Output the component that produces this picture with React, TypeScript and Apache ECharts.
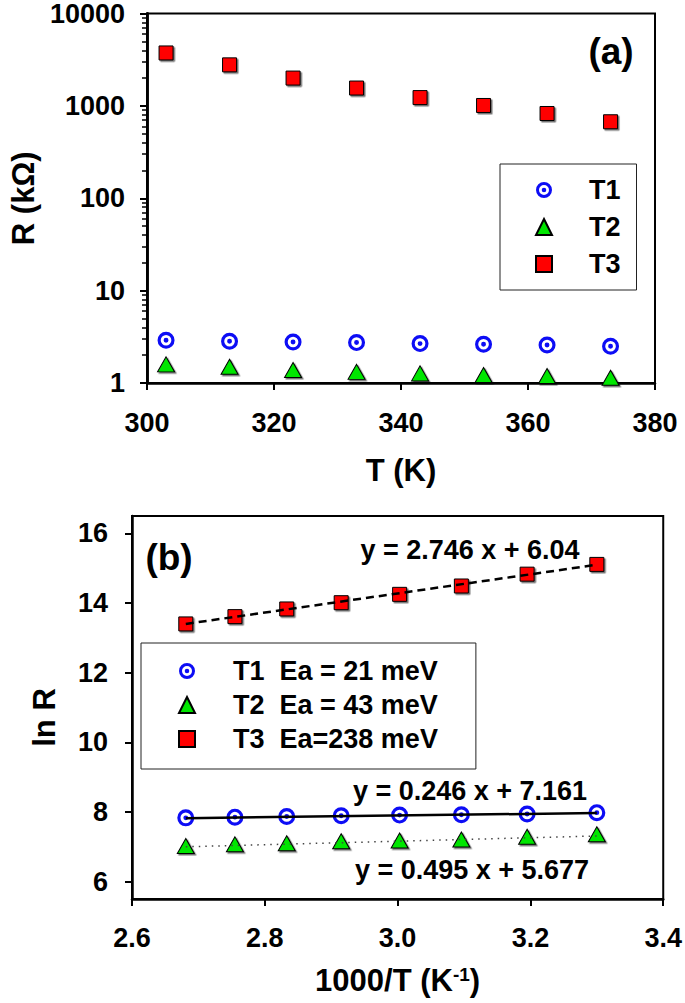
import React, { useEffect, useRef } from "react";
import * as echarts from "echarts";

// ---------- data ----------
const temps = [303, 313, 323, 333, 343, 353, 363, 373];
const rT1 = [2.9, 2.83, 2.78, 2.74, 2.67, 2.63, 2.58, 2.5];
const rT2 = [1.59, 1.5, 1.38, 1.32, 1.27, 1.22, 1.19, 1.14];
const rT3 = [3740, 2780, 2000, 1560, 1230, 1010, 827, 673];

const invT = [3.3, 3.195, 3.096, 3.003, 2.915, 2.833, 2.755, 2.681];
const lnT1 = [7.98, 7.94, 7.92, 7.91, 7.89, 7.87, 7.85, 7.83];
const lnT2 = [7.36, 7.29, 7.21, 7.18, 7.16, 7.1, 7.07, 7.02];
const lnT3 = [15.11, 14.83, 14.49, 14.25, 14.01, 13.83, 13.61, 13.4];

const fitX = [2.681, 3.3];
const fitT1 = [7.82, 7.97];
const fitT2 = [7.0, 7.31];
const fitT3 = [13.4, 15.1];

const topNames = ["T1", "T2", "T3"];
const bottomNames = ["T1  Ea = 21 meV", "T2  Ea = 43 meV", "T3  Ea=238 meV"];
const eqLabels = ["y = 2.746 x + 6.04", "y = 0.246 x + 7.161", "y = 0.495 x + 5.677"];
const panelLabels = ["(a)", "(b)"];

const topYTicks = [1, 10, 100, 1000, 10000];
const topYMinor = [
  2, 3, 4, 5, 6, 7, 8, 9,
  20, 30, 40, 50, 60, 70, 80, 90,
  200, 300, 400, 500, 600, 700, 800, 900,
  2000, 3000, 4000, 5000, 6000, 7000, 8000, 9000,
];
const botYTicks = [6, 8, 10, 12, 14, 16];

// ---------- styles ----------
const FONT = '"Liberation Sans", Arial, Helvetica, sans-serif';
const BLUE = "#0d0df5";
const GREEN = "#00e600";
const RED = "#ff0000";
const RING =
  "path://M0,-8A8,8,0,1,1,0,8A8,8,0,1,1,0,-8ZM0,-5A5,5,0,1,0,0,5A5,5,0,1,0,0,-5ZM0,-2.3A2.3,2.3,0,1,1,0,2.3A2.3,2.3,0,1,1,0,-2.3Z";

const axisLine = { show: true, onZero: false, lineStyle: { color: "#000", width: 2.5 } };
const tick = { show: true, length: 7, lineStyle: { color: "#000", width: 2 } };
const labelFont = { fontSize: 27, fontWeight: "bold" as const, fontFamily: FONT, color: "#000" };
const nameFont = { fontSize: 31, fontWeight: "bold" as const, fontFamily: FONT, color: "#000" };
const shadow = { shadowColor: "rgba(0,0,0,0.55)", shadowOffsetX: 1.5, shadowOffsetY: 1.5, shadowBlur: 1.5 };

export default function App() {
  const ref = useRef<HTMLDivElement>(null);

  useEffect(() => {
    if (!ref.current) return;
    const chart = echarts.init(ref.current, null, { renderer: "svg" });

    const t1Item = { color: BLUE, opacity: 1 };
    const t2Item = { color: GREEN, borderColor: "#000", borderWidth: 1, opacity: 1, ...shadow };
    const t3Item = { color: RED, borderColor: "#000", borderWidth: 1, opacity: 1, ...shadow };

    const option: any = {
      animation: false,
      backgroundColor: "#fff",
      grid: [
        { left: 137, top: 11, width: 518, height: 372, show: true, borderColor: "#000", borderWidth: 2 },
        { left: 132, top: 516, width: 532, height: 383, show: true, borderColor: "#000", borderWidth: 2 },
      ],
      xAxis: [
        {
          type: "value", gridIndex: 0, min: 300, max: 380, interval: 20,
          axisLine, axisTick: tick, splitLine: { show: false },
          axisLabel: { ...labelFont, margin: 26 },
          name: "T (K)", nameLocation: "middle", nameGap: 72, nameTextStyle: nameFont,
        },
        {
          type: "value", gridIndex: 1, min: 2.6, max: 3.4, interval: 0.2,
          axisLine, axisTick: tick, splitLine: { show: false },
          axisLabel: { ...labelFont, margin: 25, formatter: (v: number) => v.toFixed(1) },
          name: "1000/T (K{sup|-1})", nameLocation: "middle", nameGap: 66,
          nameTextStyle: {
            ...nameFont,
            rich: {
              sup: { fontSize: 19, fontWeight: "bold", fontFamily: FONT, color: "#000", verticalAlign: "top", padding: [0, 0, 12, 0] },
            },
          },
        },
      ],
      yAxis: [
        {
          type: "log", logBase: 10, gridIndex: 0, min: 1, max: 10000,
          axisLine, splitLine: { show: false },
          axisTick: { ...tick, customValues: topYTicks },
          axisLabel: { ...labelFont, margin: 22, customValues: topYTicks, formatter: (v: number) => String(Math.round(v)) },
          name: "R (kΩ)", nameLocation: "middle", nameGap: 108, nameTextStyle: nameFont,
        },
        {
          type: "log", logBase: 10, gridIndex: 0, min: 1, max: 10000, position: "left", offset: 0,
          axisLine: { show: true, onZero: false, lineStyle: { color: "#000", width: 2.5 } },
          splitLine: { show: false }, axisLabel: { show: false },
          axisTick: { show: true, length: 5, customValues: topYMinor, lineStyle: { color: "#000", width: 1.5 } },
        },
        {
          type: "value", gridIndex: 1, min: 5.5, max: 16.5,
          axisLine, splitLine: { show: false },
          axisTick: { ...tick, customValues: botYTicks },
          axisLabel: { ...labelFont, margin: 24, customValues: botYTicks },
          name: "ln R", nameLocation: "middle", nameGap: 72,
          nameTextStyle: { ...nameFont, padding: [0, 20, 0, 0] },
        },
      ],
      legend: [
        {
          data: topNames, left: 500, top: 164, orient: "vertical",
          itemWidth: 16, itemHeight: 16, itemGap: 9, selectedMode: false,
          padding: [12, 16, 12, 35], borderColor: "#222", borderWidth: 1, backgroundColor: "#fff",
          textStyle: { ...labelFont, lineHeight: 28, padding: [0, 0, 0, 32] },
        },
        {
          data: bottomNames, left: 141, top: 643, orient: "vertical",
          itemWidth: 16, itemHeight: 16, itemGap: 6, selectedMode: false,
          padding: [14, 38, 16, 37], borderColor: "#222", borderWidth: 1, backgroundColor: "#fff",
          textStyle: { ...labelFont, lineHeight: 28, padding: [0, 0, 0, 33] },
        },
      ],
      graphic: [
        { type: "text", x: 611, y: 51, style: { text: panelLabels[0], fontSize: 37, fontWeight: "bold", fontFamily: FONT, fill: "#000", textAlign: "center", textVerticalAlign: "middle" } },
        { type: "text", x: 169, y: 557, style: { text: panelLabels[1], fontSize: 37, fontWeight: "bold", fontFamily: FONT, fill: "#000", textAlign: "center", textVerticalAlign: "middle" } },
        { type: "text", x: 470, y: 550, style: { text: eqLabels[0], fontSize: 27, fontWeight: "bold", fontFamily: FONT, fill: "#000", textAlign: "center", textVerticalAlign: "middle" } },
        { type: "text", x: 470, y: 791, style: { text: eqLabels[1], fontSize: 27, fontWeight: "bold", fontFamily: FONT, fill: "#000", textAlign: "center", textVerticalAlign: "middle" } },
        { type: "text", x: 472, y: 870, style: { text: eqLabels[2], fontSize: 27, fontWeight: "bold", fontFamily: FONT, fill: "#000", textAlign: "center", textVerticalAlign: "middle" } },
      ],
      series: [
        // panel (a)
        { type: "scatter", name: topNames[0], xAxisIndex: 0, yAxisIndex: 0, symbol: RING, symbolSize: 17, itemStyle: t1Item, data: temps.map((t, i) => [t, rT1[i]]) },
        { type: "scatter", name: topNames[1], xAxisIndex: 0, yAxisIndex: 0, symbol: "triangle", symbolSize: [17, 15], itemStyle: t2Item, data: temps.map((t, i) => [t, rT2[i]]) },
        { type: "scatter", name: topNames[2], xAxisIndex: 0, yAxisIndex: 0, symbol: "rect", symbolSize: 14, itemStyle: t3Item, data: temps.map((t, i) => [t, rT3[i]]) },
        // panel (b)
        { type: "scatter", name: bottomNames[0], xAxisIndex: 1, yAxisIndex: 2, symbol: RING, symbolSize: 17, itemStyle: t1Item, data: invT.map((x, i) => [x, lnT1[i]]) },
        { type: "scatter", name: bottomNames[1], xAxisIndex: 1, yAxisIndex: 2, symbol: "triangle", symbolSize: [17, 15], itemStyle: t2Item, data: invT.map((x, i) => [x, lnT2[i]]) },
        { type: "scatter", name: bottomNames[2], xAxisIndex: 1, yAxisIndex: 2, symbol: "rect", symbolSize: 14, itemStyle: t3Item, data: invT.map((x, i) => [x, lnT3[i]]) },
        // linear fits
        { type: "line", name: "fitT3", xAxisIndex: 1, yAxisIndex: 2, showSymbol: false, silent: true, lineStyle: { color: "#000", width: 2.5, type: [8, 5] }, data: fitX.map((x, i) => [x, fitT3[i]]) },
        { type: "line", name: "fitT1", xAxisIndex: 1, yAxisIndex: 2, showSymbol: false, silent: true, lineStyle: { color: "#000", width: 2.5 }, data: fitX.map((x, i) => [x, fitT1[i]]) },
        { type: "line", name: "fitT2", xAxisIndex: 1, yAxisIndex: 2, showSymbol: false, silent: true, lineStyle: { color: "#444", width: 1.5, type: [1.5, 5] }, data: fitX.map((x, i) => [x, fitT2[i]]) },
      ],
    };

    chart.setOption(option);
    return () => chart.dispose();
  }, []);

  return (
    <div
      ref={ref}
      style={{ position: "absolute", left: 0, top: 0, width: 685, height: 1003, background: "#fff" }}
    />
  );
}
